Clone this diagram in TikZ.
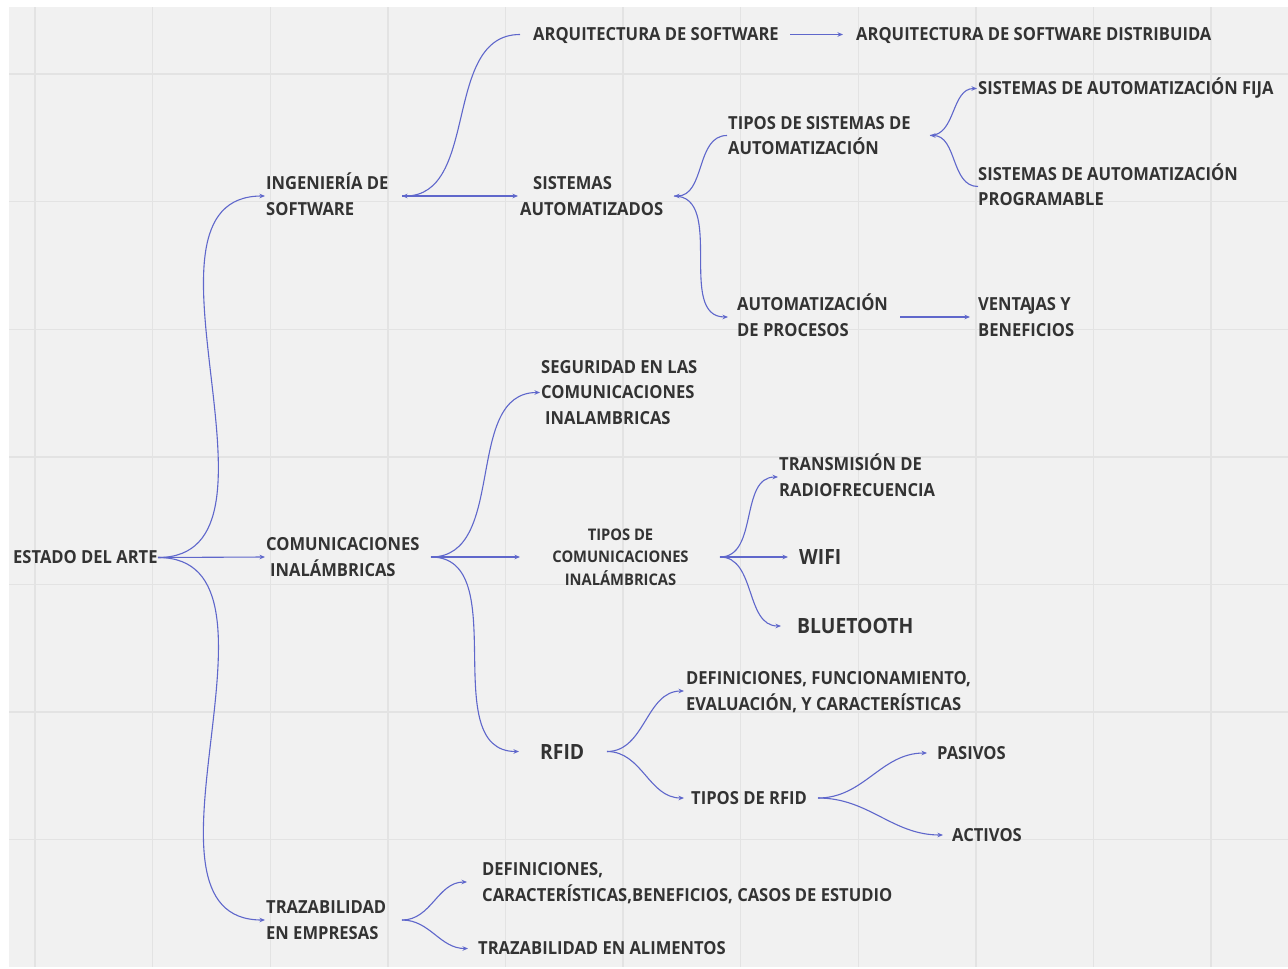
\documentclass[tikz,border=0pt]{standalone}
\usepackage{fontspec}
\setmainfont{Open Sans}[FakeStretch=0.92]
\usetikzlibrary{arrows.meta}

\definecolor{paper}{HTML}{F1F1F1}
\definecolor{gridc}{HTML}{E3E3E3}
\definecolor{ink}{HTML}{333333}
\definecolor{wire}{HTML}{5F67CB}

% strut for the first line of a label, so that every label box is
% centred on the middle of its capitals
\newcommand\tst{\rule{0pt}{1.06em}}

\tikzset{
  lbl/.style={inner sep=0pt, anchor=west, align=left, text=ink,
    font=\bfseries\fontsize{18}{25.5}\selectfont,
    execute at begin node={\tst},
    execute at end node={\rule[-0.346em]{0pt}{0.346em}}},
  biglbl/.style={lbl, font=\bfseries\fontsize{21}{26}\selectfont},
  smalllbl/.style={lbl, align=center, anchor=center,
    font=\bfseries\fontsize{16}{22.5}\selectfont},
  wire/.style={draw=wire, line width=1.1pt},
  arrow/.style={wire, -{Stealth[length=5.5pt,width=4.5pt]}},
  gridline/.style={draw=gridc, line width=1.4pt},
}

\begin{document}
\begin{tikzpicture}[x=1pt,y=-1pt]
  \useasboundingbox (0,0) rectangle (1288,969);
  \fill[white] (0,0) rectangle (1288,969);
  \fill[paper] (9,7) rectangle (1288,967);
  % board grid
  \foreach \gx in {0,...,10}
    \draw[gridline] ({35+117.6*\gx},7) -- ({35+117.6*\gx},967);
  \foreach \gy in {0,...,6}
    \draw[gridline] (9,{74+127.6*\gy}) -- (1288,{74+127.6*\gy});

  % root and first level
  \node[lbl] (estado) at (13,557.5) {ESTADO DEL ARTE};
  \node[lbl] (ing)  at (266,196) {\tst INGENIERÍA DE\\SOFTWARE};
  \node[lbl] (com)  at (266,557) {\tst COMUNICACIONES\\\hspace*{4pt}INALÁMBRICAS};
  \node[lbl] (traz) at (266,920) {\tst TRAZABILIDAD\\EN EMPRESAS};

  % software branch
  \node[lbl] (arq)  at (533,34.5) {ARQUITECTURA DE SOFTWARE};
  \node[lbl] (arqd) at (856,34.5) {ARQUITECTURA DE SOFTWARE DISTRIBUIDA};
  \node[lbl] (sis)  at (520,196) {\tst\hspace*{13pt}SISTEMAS\\AUTOMATIZADOS};
  \node[lbl] (tss)  at (728,135.5) {\tst TIPOS DE SISTEMAS DE\\AUTOMATIZACIÓN};
  \node[lbl] (fija) at (978,88.5) {SISTEMAS DE AUTOMATIZACIÓN FIJA};
  \node[lbl] (prog) at (978,186.5) {\tst SISTEMAS DE AUTOMATIZACIÓN\\PROGRAMABLE};
  \node[lbl] (ap)   at (737,317) {\tst AUTOMATIZACIÓN\\DE PROCESOS};
  \node[lbl] (vb)   at (978,317) {\tst VENTA\kern-1.5pt JAS Y\\BENEFICIOS};

  % wireless branch
  \node[lbl] (seg) at (541,392.5) {\tst SEGURIDAD EN LAS\\COMUNICACIONES\\\hspace*{4pt}INALAMBRICAS};
  \node[smalllbl] (tc) at (620.5,557) {\tst TIPOS DE\\COMUNICACIONES\\INALÁMBRICAS};
  \node[lbl] (trf) at (779,477) {\tst TRANSMISIÓN DE\\RADIOFRECUENCIA};
  \node[biglbl] (wifi) at (799,557) {WIFI};
  \node[biglbl] (bt)   at (797,626) {BLUETOOTH};
  \node[biglbl] (rfid) at (540,751.5) {RFID};
  \node[lbl] (rdef)  at (686,691) {\tst DEFINICIONES, FUNCIONAMIENTO,\\EVALUACIÓN, Y CARACTERÍSTICAS};
  \node[lbl] (trfid) at (691,798) {TIPOS DE RFID};
  \node[lbl] (pas)   at (937,753) {PASIVOS};
  \node[lbl] (act)   at (952,835) {ACTIVOS};

  % traceability branch
  \node[lbl] (tdef) at (482,882) {\tst DEFINICIONES,\\CARACTERÍSTICAS,BENEFICIOS, CASOS DE ESTUDIO};
  \node[lbl] (tali) at (478,948.5) {TRAZABILIDAD EN ALIMENTOS};

  % connectors
  \draw[arrow] ([xshift=145pt]estado.west) to[out=0,in=180] ([xshift=-1pt]ing.west);
  \draw[arrow] ([xshift=145pt]estado.west) -- ([xshift=-1pt]com.west);
  \draw[arrow] ([xshift=145pt]estado.west) to[out=0,in=180] ([xshift=-1pt]traz.west);

  \draw[arrow] ([xshift=-13pt]arq.west) to[out=180,in=0] ([xshift=136pt]ing.west);
  \draw[arrow] ([xshift=136pt]ing.west) -- ([xshift=-2pt]sis.west);
  \draw[arrow] ([xshift=257pt]arq.west) -- ([xshift=-13pt]arqd.west);
  \draw[arrow] ([xshift=-1pt]tss.west) to[out=180,in=0] ([xshift=154pt]sis.west);
  \draw[arrow] ([xshift=154pt]sis.west) to[out=0,in=180] ([xshift=-9pt]ap.west);
  \draw[arrow] ([xshift=202pt]tss.west) to[out=0,in=180] ([xshift=-1pt]fija.west);
  \draw[arrow] ([xshift=0pt]prog.west) to[out=180,in=0] ([xshift=202pt]tss.west);
  \draw[arrow] ([xshift=163pt]ap.west) -- ([xshift=-8pt]vb.west);

  \draw[arrow] ([xshift=165pt]com.west) to[out=0,in=180] ([xshift=-1pt]seg.west);
  \draw[arrow] ([xshift=165pt]com.west) to[out=0,in=180] ([xshift=-100.5pt]tc.center);
  \draw[arrow] ([xshift=165pt]com.west) to[out=0,in=180] ([xshift=-21pt]rfid.west);
  \draw[arrow] ([xshift=99.5pt]tc.center) to[out=0,in=180] ([xshift=-1pt]trf.west);
  \draw[arrow] ([xshift=99.5pt]tc.center) -- ([xshift=-11pt]wifi.west);
  \draw[arrow] ([xshift=99.5pt]tc.center) to[out=0,in=180] ([xshift=-16pt]bt.west);
  \draw[arrow] ([xshift=67pt]rfid.west) to[out=0,in=180] ([xshift=-2pt]rdef.west);
  \draw[arrow] ([xshift=67pt]rfid.west) to[out=0,in=180] ([xshift=-7pt]trfid.west);
  \draw[arrow] ([xshift=127pt]trfid.west) to[out=0,in=180] ([xshift=-10pt]pas.west);
  \draw[arrow] ([xshift=127pt]trfid.west) to[out=0,in=180] ([xshift=-9pt]act.west);

  \draw[arrow] ([xshift=136pt]traz.west) to[out=0,in=180] ([xshift=-15pt]tdef.west);
  \draw[arrow] ([xshift=136pt]traz.west) to[out=0,in=180] ([xshift=-10pt]tali.west);
\end{tikzpicture}
\end{document}
